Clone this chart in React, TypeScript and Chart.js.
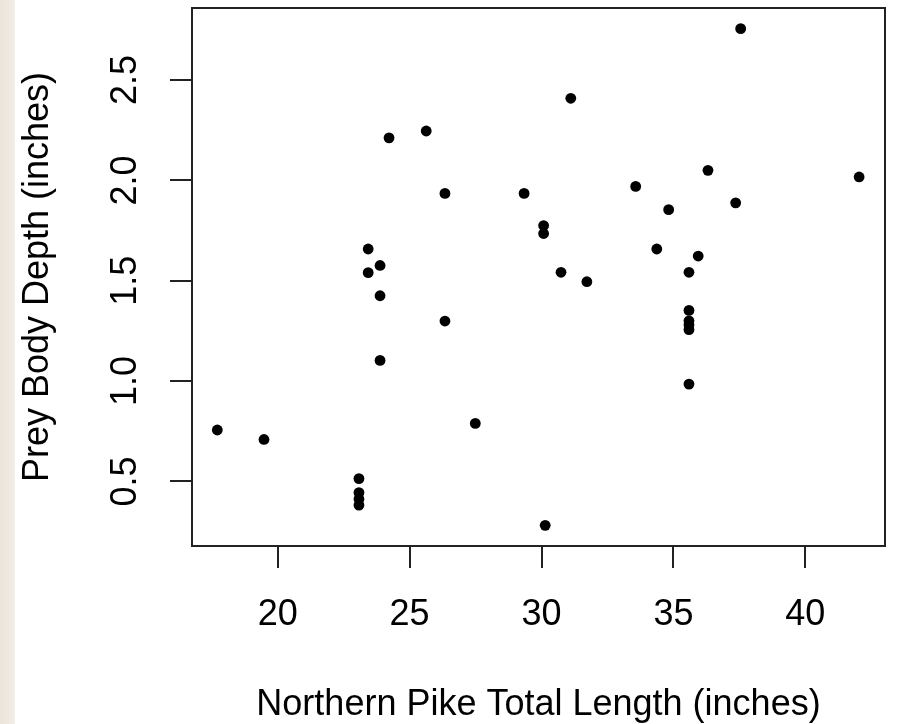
import React, { useEffect, useRef } from "react";
import { Chart, registerables } from "chart.js";

Chart.register(...registerables);

// Northern Pike total length (inches)
const pikeLength: number[] = [
  17.71, 19.48, 23.08, 23.08, 23.08, 23.08, 27.49, 24.22, 25.63, 26.34,
  29.34, 23.43, 23.88, 23.43, 23.88, 26.34, 23.88, 37.55, 31.11, 36.31,
  42.04, 33.57, 37.36, 34.82, 30.08, 30.08, 34.37, 35.94, 30.74, 31.72,
  35.59, 35.59, 35.59, 35.59, 35.59, 35.59, 30.14,
];

// Prey body depth (inches)
const preyDepth: number[] = [
  0.756, 0.709, 0.514, 0.444, 0.412, 0.382, 0.789, 2.212, 2.246, 1.935,
  1.935, 1.658, 1.576, 1.540, 1.425, 1.299, 1.103, 2.756, 2.409, 2.050,
  2.017, 1.970, 1.888, 1.854, 1.775, 1.735, 1.658, 1.623, 1.542, 1.495,
  1.542, 1.352, 1.300, 1.280, 1.256, 0.985, 0.281,
];

const xTickValues: number[] = [20, 25, 30, 35, 40];
const yTickValues: number[] = [0.5, 1.0, 1.5, 2.0, 2.5];

const xTitle = "Northern Pike Total Length (inches)";
const yTitle = "Prey Body Depth (inches)";

const FONT = "'Liberation Sans', Arial, sans-serif";
const INK = "#000000";
const LINE = "#222222";

const boxPlugin = {
  id: "rBox",
  beforeDatasetsDraw(chart: any) {
    const { ctx, chartArea } = chart;
    ctx.save();
    ctx.strokeStyle = LINE;
    ctx.lineWidth = 2;
    ctx.strokeRect(
      Math.round(chartArea.left),
      Math.round(chartArea.top),
      Math.round(chartArea.right - chartArea.left),
      Math.round(chartArea.bottom - chartArea.top)
    );
    ctx.restore();
  },
};

export default function App() {
  const canvasRef = useRef<HTMLCanvasElement | null>(null);

  useEffect(() => {
    const canvas = canvasRef.current;
    if (!canvas) return;
    const points = pikeLength.map((x, i) => ({ x, y: preyDepth[i] }));
    const chart = new Chart(canvas, {
      type: "scatter",
      data: {
        datasets: [
          {
            data: points,
            backgroundColor: "#000000",
            borderColor: "#000000",
            borderWidth: 0,
            pointRadius: 5.4,
            pointHoverRadius: 5.4,
          },
        ],
      },
      options: {
        responsive: false,
        animation: false,
        devicePixelRatio: 1,
        events: [],
        layout: { padding: { left: 0, top: 8, right: 12, bottom: 0 } },
        plugins: {
          legend: { display: false },
          tooltip: { enabled: false },
        },
        scales: {
          x: {
            type: "linear",
            min: 16.751,
            max: 43.021,
            afterBuildTicks: (s: any) => {
              s.ticks = xTickValues.map((v) => ({ value: v }));
            },
            afterFit: (s: any) => {
              s.height = 178;
              s.paddingLeft = 0;
              s.paddingRight = 0;
            },
            grid: {
              drawOnChartArea: false,
              drawTicks: true,
              tickLength: 22,
              color: LINE,
              lineWidth: 2,
            },
            border: { display: false },
            ticks: {
              autoSkip: false,
              maxRotation: 0,
              minRotation: 0,
              padding: 25,
              color: INK,
              font: { family: FONT, size: 36, lineHeight: 1.2 },
              callback: (v: any) => String(v),
            },
            title: {
              display: true,
              text: xTitle,
              color: INK,
              font: { family: FONT, size: 36, lineHeight: 1 },
              padding: { top: 0, bottom: 1 },
            },
          },
          y: {
            type: "linear",
            min: 0.178,
            max: 2.859,
            afterBuildTicks: (s: any) => {
              s.ticks = yTickValues.map((v) => ({ value: v }));
            },
            afterFit: (s: any) => {
              s.width = 192;
              s.paddingTop = 0;
              s.paddingBottom = 0;
            },
            grid: {
              drawOnChartArea: false,
              drawTicks: true,
              tickLength: 22,
              color: LINE,
              lineWidth: 2,
            },
            border: { display: false },
            ticks: {
              autoSkip: false,
              minRotation: 90,
              maxRotation: 90,
              crossAlign: "center",
              padding: 19,
              color: INK,
              font: { family: FONT, size: 36, lineHeight: 1.2 },
              callback: (v: any) => Number(v).toFixed(1),
            },
            title: {
              display: true,
              text: yTitle,
              color: INK,
              font: { family: FONT, size: 36, lineHeight: 1 },
              padding: { top: 20, bottom: 0 },
            },
          },
        },
      },
      plugins: [boxPlugin],
    } as any);
    return () => {
      chart.destroy();
    };
  }, []);

  return (
    <div
      style={{
        position: "absolute",
        left: 0,
        top: 0,
        width: 897,
        height: 724,
        background: "#ffffff",
        overflow: "hidden",
      }}
    >
      <div
        style={{
          position: "absolute",
          left: 0,
          top: 0,
          width: 15,
          height: 724,
          background: "linear-gradient(90deg, #ebe4da 0%, #efe9e1 60%, #f3efe9 100%)",
        }}
      />
      <canvas
        ref={canvasRef}
        width={897}
        height={724}
        style={{ position: "absolute", left: 0, top: 0, display: "block" }}
      />
    </div>
  );
}
